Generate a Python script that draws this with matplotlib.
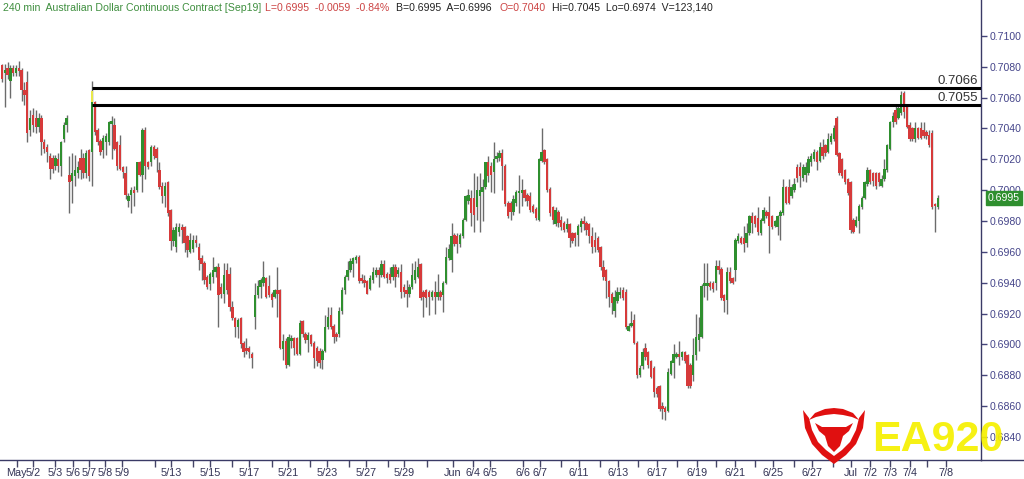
import matplotlib
matplotlib.use("Agg")
import matplotlib.pyplot as plt
from matplotlib.patches import Polygon
from matplotlib.lines import Line2D
import matplotlib.transforms as mtrans
import numpy as np

plt.rcParams['font.family'] = ['Liberation Sans', 'DejaVu Sans']

# ---------------- data (240-min bars, AUD continuous contract) ----------------
opens = [0.7081,0.7076,0.7079,0.7071,0.7079,0.7076,0.7079,0.7078,0.7065,0.7070,
         0.7039,0.7049,0.7047,0.7041,0.7047,0.7031,0.7028,0.7022,0.7021,0.7016,
         0.7020,0.7016,0.7033,0.7042,0.7010,0.7006,0.7009,0.7011,0.7021,0.7021,
         0.7011,0.7026,0.7025,0.7057,0.7039,0.7032,0.7026,0.7031,0.7031,0.7043,
         0.7042,0.7031,0.7029,0.7015,0.7011,0.6993,0.6997,0.7000,0.7000,0.7018,
         0.7010,0.7039,0.7018,0.7018,0.7028,0.7027,0.7013,0.7003,0.6996,0.7005,
         0.6987,0.6967,0.6963,0.6973,0.6976,0.6976,0.6970,0.6960,0.6962,0.6968,
         0.6963,0.6956,0.6953,0.6944,0.6939,0.6944,0.6947,0.6950,0.6937,0.6933,
         0.6948,0.6946,0.6924,0.6917,0.6911,0.6917,0.6901,0.6898,0.6898,0.6894,
         0.6918,0.6932,0.6937,0.6940,0.6943,0.6938,0.6933,0.6931,0.6935,0.6935,
         0.6897,0.6902,0.6887,0.6902,0.6904,0.6904,0.6894,0.6915,0.6907,0.6903,
         0.6906,0.6901,0.6898,0.6896,0.6890,0.6896,0.6911,0.6919,0.6912,0.6907,
         0.6907,0.6922,0.6935,0.6944,0.6948,0.6952,0.6955,0.6957,0.6943,0.6942,
         0.6941,0.6936,0.6942,0.6945,0.6948,0.6945,0.6952,0.6946,0.6946,0.6944,
         0.6950,0.6946,0.6947,0.6937,0.6935,0.6933,0.6937,0.6942,0.6944,0.6952,
         0.6934,0.6935,0.6934,0.6931,0.6934,0.6931,0.6934,0.6932,0.6940,0.6956,
         0.6955,0.6971,0.6970,0.6965,0.6970,0.6981,0.6993,0.6995,0.6995,0.6989,
         0.6996,0.6999,0.7002,0.7018,0.7016,0.7012,0.7020,0.7021,0.7024,0.7016,
         0.6992,0.6992,0.6986,0.6992,0.6998,0.6998,0.7000,0.6997,0.6996,0.6990,
         0.6988,0.6981,0.7019,0.7026,0.7020,0.7001,0.6989,0.6978,0.6986,0.6981,
         0.6979,0.6975,0.6978,0.6972,0.6972,0.6971,0.6976,0.6980,0.6979,0.6978,
         0.6970,0.6968,0.6969,0.6963,0.6950,0.6948,0.6941,0.6933,0.6922,0.6928,
         0.6932,0.6935,0.6934,0.6909,0.6912,0.6916,0.6901,0.6880,0.6886,0.6898,
         0.6895,0.6889,0.6885,0.6872,0.6873,0.6860,0.6859,0.6857,0.6881,0.6888,
         0.6892,0.6894,0.6892,0.6895,0.6893,0.6887,0.6880,0.6893,0.6903,0.6905,
         0.6938,0.6938,0.6940,0.6940,0.6940,0.6951,0.6949,0.6932,0.6929,0.6947,
         0.6943,0.6948,0.6967,0.6969,0.6969,0.6966,0.6972,0.6983,0.6983,0.6982,
         0.6972,0.6980,0.6986,0.6986,0.6983,0.6977,0.6976,0.6983,0.6985,0.7002,
         0.7002,0.6996,0.7000,0.7015,0.7015,0.7008,0.7010,0.7011,0.7018,0.7020,
         0.7025,0.7019,0.7028,0.7029,0.7025,0.7031,0.7033,0.7047,0.7024,0.7020,
         0.7013,0.7007,0.7005,0.6981,0.6977,0.6980,0.6989,0.6995,0.7004,0.7013,
         0.7011,0.7011,0.7011,0.7003,0.7007,0.7013,0.7027,0.7044,0.7052,0.7047,
         0.7050,0.7063,0.7054,0.7042,0.7040,0.7033,0.7040,0.7040,0.7039,0.7038,
         0.7036,0.7037,0.6991,0.6989]
highs = [0.7082,0.7082,0.7083,0.7081,0.7081,0.7081,0.7084,0.7079,0.7070,0.7077,
         0.7052,0.7053,0.7052,0.7050,0.7049,0.7033,0.7030,0.7024,0.7023,0.7023,
         0.7024,0.7032,0.7044,0.7049,0.7022,0.7024,0.7023,0.7019,0.7027,0.7024,
         0.7026,0.7027,0.7071,0.7058,0.7040,0.7033,0.7036,0.7037,0.7045,0.7048,
         0.7047,0.7032,0.7036,0.7016,0.7016,0.6998,0.7002,0.7003,0.7018,0.7019,
         0.7040,0.7041,0.7019,0.7029,0.7029,0.7028,0.7018,0.7005,0.7005,0.7006,
         0.6988,0.6976,0.6979,0.6979,0.6978,0.6977,0.6971,0.6972,0.6971,0.6971,
         0.6966,0.6958,0.6954,0.6945,0.6947,0.6957,0.6951,0.6953,0.6940,0.6953,
         0.6953,0.6950,0.6928,0.6918,0.6917,0.6918,0.6902,0.6904,0.6899,0.6895,
         0.6940,0.6942,0.6943,0.6954,0.6944,0.6945,0.6934,0.6936,0.6950,0.6936,
         0.6907,0.6904,0.6907,0.6906,0.6905,0.6905,0.6916,0.6916,0.6908,0.6908,
         0.6907,0.6902,0.6899,0.6898,0.6897,0.6919,0.6924,0.6924,0.6913,0.6908,
         0.6924,0.6937,0.6945,0.6954,0.6956,0.6957,0.6958,0.6958,0.6946,0.6945,
         0.6942,0.6945,0.6950,0.6950,0.6950,0.6955,0.6955,0.6947,0.6950,0.6952,
         0.6952,0.6950,0.6952,0.6939,0.6942,0.6939,0.6953,0.6954,0.6956,0.6953,
         0.6935,0.6936,0.6935,0.6935,0.6941,0.6946,0.6935,0.6941,0.6963,0.6965,
         0.6979,0.6972,0.6972,0.6972,0.6982,0.6997,0.7001,0.7000,0.7011,0.7009,
         0.7011,0.7007,0.7018,0.7022,0.7018,0.7031,0.7025,0.7026,0.7027,0.7017,
         0.6993,0.6993,0.6997,0.7000,0.7010,0.7007,0.7001,0.6998,0.6999,0.6991,
         0.6989,0.7021,0.7040,0.7027,0.7021,0.7002,0.6990,0.6989,0.6987,0.6983,
         0.6980,0.6982,0.6979,0.6973,0.6973,0.6978,0.6982,0.6983,0.6980,0.6979,
         0.6976,0.6973,0.6970,0.6964,0.6955,0.6949,0.6942,0.6934,0.6935,0.6937,
         0.6937,0.6937,0.6936,0.6914,0.6922,0.6920,0.6902,0.6887,0.6898,0.6901,
         0.6896,0.6890,0.6886,0.6873,0.6874,0.6863,0.6860,0.6885,0.6890,0.6900,
         0.6895,0.6902,0.6896,0.6896,0.6894,0.6888,0.6904,0.6920,0.6918,0.6939,
         0.6953,0.6953,0.6941,0.6941,0.6955,0.6955,0.6950,0.6933,0.6950,0.6950,
         0.6944,0.6969,0.6972,0.6970,0.6977,0.6979,0.6984,0.6986,0.6984,0.6989,
         0.6982,0.6989,0.6987,0.6996,0.6984,0.6981,0.6984,0.6987,0.7007,0.7003,
         0.7007,0.7004,0.7008,0.7017,0.7018,0.7017,0.7018,0.7022,0.7024,0.7027,
         0.7026,0.7031,0.7033,0.7030,0.7037,0.7037,0.7042,0.7048,0.7025,0.7021,
         0.7014,0.7008,0.7006,0.6982,0.6983,0.6991,0.6996,0.7006,0.7015,0.7014,
         0.7012,0.7012,0.7012,0.7010,0.7020,0.7030,0.7045,0.7051,0.7055,0.7055,
         0.7064,0.7064,0.7055,0.7044,0.7041,0.7044,0.7041,0.7044,0.7044,0.7039,
         0.7039,0.7039,0.6992,0.6997]
lows = [0.7070,0.7054,0.7072,0.7060,0.7074,0.7074,0.7074,0.7058,0.7055,0.7031,
        0.7035,0.7038,0.7037,0.7038,0.7023,0.7024,0.7018,0.7007,0.7011,0.7013,
        0.7012,0.7009,0.7031,0.7038,0.6985,0.6992,0.7003,0.7008,0.7007,0.7008,
        0.7008,0.7006,0.7003,0.7036,0.7029,0.7023,0.7021,0.7023,0.7029,0.7020,
        0.7026,0.7013,0.7013,0.7008,0.6994,0.6989,0.6985,0.6990,0.6999,0.7009,
        0.6999,0.7007,0.7014,0.7016,0.7020,0.7012,0.7001,0.6992,0.6989,0.6983,
        0.6961,0.6964,0.6960,0.6970,0.6966,0.6960,0.6957,0.6959,0.6960,0.6963,
        0.6948,0.6942,0.6939,0.6936,0.6935,0.6940,0.6944,0.6911,0.6930,0.6927,
        0.6933,0.6922,0.6916,0.6905,0.6904,0.6898,0.6892,0.6894,0.6891,0.6885,
        0.6910,0.6930,0.6930,0.6938,0.6930,0.6931,0.6924,0.6930,0.6918,0.6897,
        0.6890,0.6885,0.6886,0.6898,0.6893,0.6893,0.6893,0.6905,0.6901,0.6895,
        0.6899,0.6885,0.6886,0.6885,0.6884,0.6895,0.6910,0.6910,0.6901,0.6902,
        0.6905,0.6920,0.6933,0.6942,0.6947,0.6944,0.6953,0.6940,0.6940,0.6937,
        0.6933,0.6935,0.6940,0.6944,0.6937,0.6944,0.6943,0.6940,0.6940,0.6942,
        0.6937,0.6944,0.6930,0.6931,0.6924,0.6931,0.6936,0.6940,0.6943,0.6929,
        0.6918,0.6924,0.6919,0.6929,0.6920,0.6929,0.6929,0.6921,0.6939,0.6955,
        0.6947,0.6964,0.6959,0.6963,0.6969,0.6980,0.6991,0.6977,0.6973,0.6981,
        0.6973,0.6980,0.7001,0.7005,0.6999,0.6998,0.7018,0.7019,0.7000,0.6990,
        0.6982,0.6981,0.6984,0.6990,0.6985,0.6990,0.6993,0.6990,0.6986,0.6985,
        0.6981,0.6980,0.7018,0.7017,0.6999,0.6983,0.6978,0.6977,0.6976,0.6974,
        0.6973,0.6973,0.6963,0.6966,0.6964,0.6964,0.6973,0.6974,0.6971,0.6966,
        0.6959,0.6960,0.6960,0.6948,0.6942,0.6930,0.6924,0.6920,0.6918,0.6927,
        0.6930,0.6929,0.6910,0.6909,0.6911,0.6900,0.6878,0.6879,0.6884,0.6890,
        0.6885,0.6878,0.6866,0.6866,0.6857,0.6852,0.6851,0.6856,0.6880,0.6878,
        0.6891,0.6887,0.6890,0.6888,0.6872,0.6872,0.6876,0.6890,0.6896,0.6904,
        0.6931,0.6929,0.6935,0.6934,0.6935,0.6946,0.6929,0.6921,0.6920,0.6940,
        0.6939,0.6941,0.6966,0.6965,0.6960,0.6963,0.6971,0.6972,0.6976,0.6971,
        0.6971,0.6979,0.6982,0.6959,0.6975,0.6976,0.6971,0.6968,0.6984,0.6991,
        0.6991,0.6995,0.6999,0.7005,0.7002,0.7006,0.7005,0.7010,0.7016,0.7019,
        0.7013,0.7018,0.7020,0.7022,0.7024,0.7030,0.7032,0.7022,0.7010,0.7008,
        0.7004,0.6997,0.6972,0.6972,0.6976,0.6972,0.6988,0.6994,0.7003,0.7004,
        0.7003,0.7001,0.7003,0.7002,0.7006,0.7012,0.7026,0.7041,0.7043,0.7046,
        0.7049,0.7047,0.7040,0.7032,0.7032,0.7031,0.7033,0.7033,0.7034,0.7033,
        0.7028,0.6988,0.6973,0.6988]
closes = [0.7072,0.7078,0.7075,0.7079,0.7076,0.7079,0.7077,0.7065,0.7062,0.7037,
          0.7047,0.7042,0.7041,0.7047,0.7031,0.7027,0.7025,0.7014,0.7014,0.7021,
          0.7016,0.7031,0.7042,0.7047,0.7005,0.7011,0.7013,0.7015,0.7013,0.7011,
          0.7024,0.7009,0.7064,0.7038,0.7031,0.7025,0.7034,0.7035,0.7044,0.7045,
          0.7027,0.7016,0.7014,0.7012,0.6997,0.6996,0.7000,0.6998,0.7018,0.7010,
          0.7039,0.7016,0.7015,0.7028,0.7022,0.7021,0.7002,0.6996,0.7003,0.6985,
          0.6967,0.6974,0.6976,0.6976,0.6974,0.6966,0.6961,0.6968,0.6968,0.6966,
          0.6955,0.6952,0.6942,0.6937,0.6946,0.6948,0.6950,0.6932,0.6933,0.6945,
          0.6935,0.6924,0.6917,0.6911,0.6916,0.6900,0.6895,0.6896,0.6895,0.6891,
          0.6932,0.6938,0.6942,0.6944,0.6931,0.6932,0.6929,0.6935,0.6933,0.6898,
          0.6902,0.6887,0.6905,0.6904,0.6898,0.6894,0.6914,0.6907,0.6903,0.6906,
          0.6900,0.6891,0.6889,0.6888,0.6896,0.6911,0.6918,0.6911,0.6905,0.6905,
          0.6922,0.6935,0.6944,0.6948,0.6954,0.6956,0.6957,0.6941,0.6941,0.6940,
          0.6933,0.6943,0.6947,0.6948,0.6945,0.6952,0.6944,0.6943,0.6942,0.6950,
          0.6944,0.6948,0.6934,0.6934,0.6933,0.6937,0.6945,0.6948,0.6950,0.6930,
          0.6931,0.6930,0.6931,0.6934,0.6931,0.6934,0.6931,0.6940,0.6957,0.6962,
          0.6970,0.6965,0.6965,0.6971,0.6981,0.6996,0.6997,0.6985,0.6984,0.7000,
          0.7000,0.7002,0.7018,0.7009,0.7010,0.7020,0.7022,0.7024,0.7016,0.6991,
          0.6983,0.6986,0.6994,0.6999,0.6999,0.7000,0.6995,0.6993,0.6987,0.6986,
          0.6982,0.7020,0.7025,0.7018,0.7000,0.6985,0.6981,0.6987,0.6979,0.6976,
          0.6974,0.6978,0.6969,0.6967,0.6969,0.6977,0.6980,0.6978,0.6974,0.6970,
          0.6963,0.6963,0.6961,0.6950,0.6944,0.6941,0.6931,0.6927,0.6931,0.6934,
          0.6934,0.6930,0.6911,0.6912,0.6914,0.6901,0.6880,0.6885,0.6895,0.6892,
          0.6887,0.6879,0.6869,0.6868,0.6858,0.6858,0.6856,0.6882,0.6889,0.6894,
          0.6894,0.6892,0.6895,0.6889,0.6873,0.6873,0.6893,0.6905,0.6907,0.6938,
          0.6940,0.6940,0.6937,0.6936,0.6951,0.6948,0.6930,0.6928,0.6947,0.6941,
          0.6940,0.6968,0.6970,0.6966,0.6965,0.6972,0.6983,0.6979,0.6978,0.6973,
          0.6981,0.6987,0.6983,0.6977,0.6976,0.6980,0.6983,0.6986,0.7002,0.6992,
          0.6992,0.7002,0.7004,0.7008,0.7009,0.7015,0.7015,0.7020,0.7022,0.7025,
          0.7018,0.7028,0.7022,0.7024,0.7033,0.7035,0.7040,0.7023,0.7011,0.7009,
          0.7005,0.6998,0.6974,0.6973,0.6981,0.6990,0.6995,0.7005,0.7013,0.7005,
          0.7006,0.7003,0.7005,0.7007,0.7014,0.7029,0.7044,0.7048,0.7044,0.7053,
          0.7062,0.7051,0.7041,0.7033,0.7033,0.7040,0.7034,0.7034,0.7035,0.7035,
          0.7029,0.6989,0.6990,0.6995]

highlight_bar = 32
highlight_low, highlight_high = 0.7057, 0.7064

level_prices = [0.7066, 0.7055]
level_start_bar = 32

date_labels = ["May", "5/2", "5/3", "5/6", "5/7", "5/8", "5/9", "5/13", "5/15", "5/17",
               "5/21", "5/23", "5/27", "5/29", "Jun", "6/4", "6/5", "6/6", "6/7", "6/11",
               "6/13", "6/17", "6/19", "6/21", "6/25", "6/27", "Jul", "7/2", "7/3", "7/4", "7/8"]
date_bar_pos = [5.3, 11.0, 18.9, 25.3, 31.0, 36.7, 42.7, 60.1, 74.0, 87.9,
                101.8, 115.7, 129.5, 143.1, 160.5, 167.6, 173.7, 185.4, 191.5, 205.3,
                219.2, 233.1, 247.3, 260.9, 274.4, 288.3, 302.1, 308.9, 316.0, 323.1, 336.0]
minor_bar_pos = [54.4, 68.0, 81.9, 96.1, 109.6, 123.5, 137.4, 151.2,
                 199.0, 212.8, 226.3, 240.2, 254.1, 268.0, 281.9, 295.7, 329.2]

price_ticks = [0.6840, 0.6860, 0.6880, 0.6900, 0.6920, 0.6940, 0.6960, 0.6980,
               0.7000, 0.7020, 0.7040, 0.7060, 0.7080, 0.7100]
last_price = 0.6995

header_parts = ["240 min  Australian Dollar Continuous Contract [Sep19]",
                "L=0.6995  -0.0059  -0.84%", "B=0.6995  A=0.6996", "O=0.7040",
                "Hi=0.7045  Lo=0.6974  V=123,140"]
header_colors = ["#3f8f3f", "#cc4444", "#222222", "#cc4444", "#222222"]
header_px = [3, 265, 396, 500, 552]

# ---------------- figure ----------------
W, H = 1024, 479
fig = plt.figure(figsize=(W / 100, H / 100), dpi=100)
ax = fig.add_axes([0, 19 / H, 981 / W, 460 / H])
ax.set_facecolor("white")

n = len(closes)
x = np.arange(n)
o = np.array(opens); h = np.array(highs); l = np.array(lows); c = np.array(closes)
up = c >= o
UP, DN, WICK = "#2f8f2f", "#d63a3a", "#6b6b6b"

ax.vlines(x, l, h, color=WICK, lw=1.0, zorder=2)
body_lo = np.minimum(o, c)
body_h = np.maximum(np.abs(c - o), 0.00012)
ax.bar(x, body_h, bottom=body_lo, width=0.85,
       color=np.where(up, UP, DN), edgecolor="none", zorder=3)
ax.bar([highlight_bar], [highlight_high - highlight_low], bottom=[highlight_low],
       width=0.9, color="#e8e84a", edgecolor="none", zorder=4)

ax.hlines(level_prices, level_start_bar, 400, color="black", lw=2.2, zorder=5)
trans_lbl = mtrans.blended_transform_factory(ax.transAxes, ax.transData)
for p in level_prices:
    ax.text(0.997, p + 0.00012, f"{p:.4f}", transform=trans_lbl, ha="right",
            va="bottom", fontsize=9.5, color="#333333", zorder=6)

ax.set_xlim(-0.71, 348.4)
ax.set_ylim(0.68251, 0.71233)

ax.set_xticks(date_bar_pos)
ax.set_xticklabels(date_labels)
ax.set_xticks(minor_bar_pos, minor=True)
ax.tick_params(axis="x", which="both", direction="out", length=5, width=1,
               color="#444466", labelsize=7.8, labelcolor="#333355", pad=1)

ax.yaxis.tick_right()
ax.set_yticks(price_ticks)
ax.set_yticklabels([f"{p:.4f}" for p in price_ticks])
ax.tick_params(axis="y", direction="out", length=4, width=1, color="#44447a",
               labelsize=7.6, labelcolor="#45458a", pad=2)

for s in ["top", "left"]:
    ax.spines[s].set_visible(False)
for s in ["bottom", "right"]:
    ax.spines[s].set_color("#3a3a66")
    ax.spines[s].set_linewidth(1.0)

fig.add_artist(Line2D([981 / W, 1], [19 / H, 19 / H], transform=fig.transFigure,
                      color="#3a3a66", lw=1.0))

# last-price tag
ax.annotate(f"{last_price:.4f}", xy=(1.0, last_price), xycoords=trans_lbl,
            xytext=(5, 0), textcoords="offset points", ha="left", va="center",
            fontsize=7.6, color="white", zorder=10, annotation_clip=False,
            bbox=dict(boxstyle="square,pad=0.2", fc="#2f8f2f", ec="#2f8f2f"))

# header
for txt, col, px in zip(header_parts, header_colors, header_px):
    fig.text(px / W, 1 - 8 / H, txt, color=col, fontsize=7.6, va="center", ha="left")

# logo
def P(pts):
    return [(px_ / W, 1 - py_ / H) for px_, py_ in pts]

red = "#e01010"
fig.add_artist(Polygon(P([(803, 410), (805, 428), (812, 444), (822, 455), (834, 464),
                          (846, 455), (856, 444), (863, 428), (865, 410),
                          (859, 418), (856, 430), (850, 442), (842, 450), (834, 456),
                          (826, 450), (818, 442), (812, 430), (809, 418)]),
                       closed=True, transform=fig.transFigure, fc=red, ec="none", zorder=20))
fig.add_artist(Polygon(P([(809, 420), (815, 413), (825, 409), (834, 408), (843, 409),
                          (853, 413), (859, 420), (852, 417), (843, 415), (834, 414),
                          (825, 415), (816, 417)]),
                       closed=True, transform=fig.transFigure, fc=red, ec="none", zorder=20))
fig.add_artist(Polygon(P([(815, 423), (822, 427), (846, 427), (853, 423), (849, 431),
                          (843, 436), (840, 446), (834, 452), (828, 446), (825, 436),
                          (819, 431)]),
                       closed=True, transform=fig.transFigure, fc=red, ec="none", zorder=20))
fig.text(872 / W, 1 - 440 / H, "EA920", fontsize=31, fontweight="bold",
         color="#f6f000", alpha=0.92, va="center", ha="left", zorder=21)

fig.savefig("out.png", dpi=100, facecolor="white")
